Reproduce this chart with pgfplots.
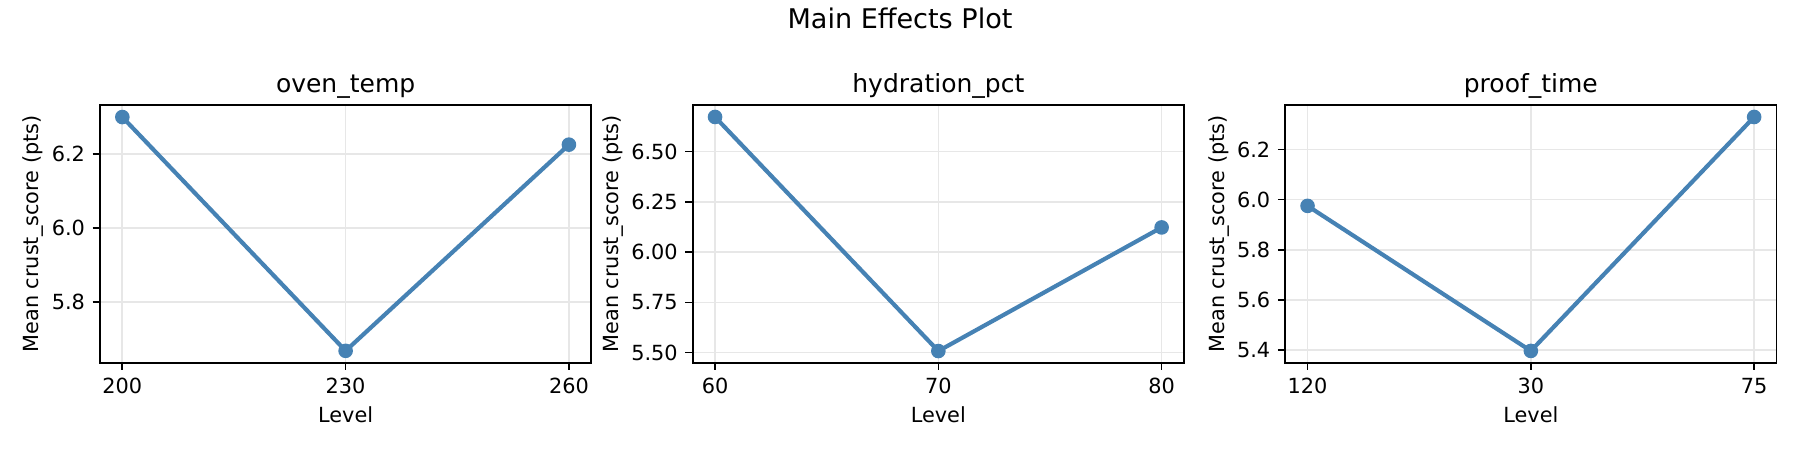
\documentclass[border=0pt]{standalone}
\usepackage{fontspec}
\setmainfont{DejaVu Sans}
\usepackage{pgfplots}
\pgfplotsset{compat=1.18}

\definecolor{steel}{RGB}{70,130,180}
\definecolor{gridgray}{RGB}{231,231,231}

\pgfplotsset{
  effect/.style={
    scale only axis,
    width=235.8pt, height=123.6pt,
    anchor=south west,
    xmin=-0.1, xmax=2.1,
    xtick={0,1,2},
    axis line style={line width=0.8pt},
    tick align=outside,
    major tick length=3.5pt,
    tick style={line width=0.8pt, black},
    xtick pos=bottom, ytick pos=left,
    grid=major,
    major grid style={gridgray, line width=0.8pt},
    /pgf/number format/assume math mode=true,
    tick label style={font=\fontsize{10}{12}\selectfont},
    xticklabel style={anchor=base, inner sep=0pt, yshift=-11.2pt},
    yticklabel style={anchor=east, inner sep=0pt, xshift=-3.5pt},
    title style={font=\fontsize{12}{14}\selectfont, at={(0.5,1)}, anchor=base, inner sep=0pt},
    xlabel={Level},
    ylabel={Mean crust\_score (pts)},
    label style={font=\fontsize{10}{12}\selectfont, inner sep=0pt},
    xlabel style={at={([yshift=-28.6pt]axis description cs:0.5,0)}, anchor=base},
  },
  series/.style={steel, line width=2pt, mark=*, mark size=3pt, mark options={solid, line width=1pt}},
}

\begin{document}
\begin{tikzpicture}
\path[use as bounding box] (0,0) rectangle (864pt,216pt);

% oven_temp
\begin{axis}[effect, at={(48pt,41.9pt)},
    title={oven\_temp},
    xticklabels={200,230,260},
    ymin=5.636, ymax=6.331,
    ytick={5.8,6.0,6.2},
    yticklabel style={/pgf/number format/.cd, fixed, fixed zerofill, precision=1},
    ylabel style={at={([xshift=-29.3pt]axis description cs:0,0.5)}, anchor=base}]
  \addplot[series] coordinates {(0,6.299) (1,5.668) (2,6.2245)};
\end{axis}

% hydration_pct
\begin{axis}[effect, at={(332.5pt,41.9pt)},
    title={hydration\_pct},
    xticklabels={60,70,80},
    ymin=5.450, ymax=6.731,
    ytick={5.5,5.75,6.0,6.25,6.5},
    yticklabel style={/pgf/number format/.cd, fixed, fixed zerofill, precision=2},
    ylabel style={at={([xshift=-35.7pt]axis description cs:0,0.5)}, anchor=base}]
  \addplot[series] coordinates {(0,6.6725) (1,5.508) (2,6.123)};
\end{axis}

% proof_time
\begin{axis}[effect, at={(616.9pt,41.9pt)},
    title={proof\_time},
    xticklabels={120,30,75},
    ymin=5.349, ymax=6.377,
    ytick={5.4,5.6,5.8,6.0,6.2},
    yticklabel style={/pgf/number format/.cd, fixed, fixed zerofill, precision=1},
    ylabel style={at={([xshift=-29.3pt]axis description cs:0,0.5)}, anchor=base}]
  \addplot[series] coordinates {(0,5.975) (1,5.396) (2,6.330)};
\end{axis}

\node[font=\fontsize{13}{15}\selectfont, anchor=base] at (432pt,202.1pt) {Main Effects Plot};
\end{tikzpicture}
\end{document}
